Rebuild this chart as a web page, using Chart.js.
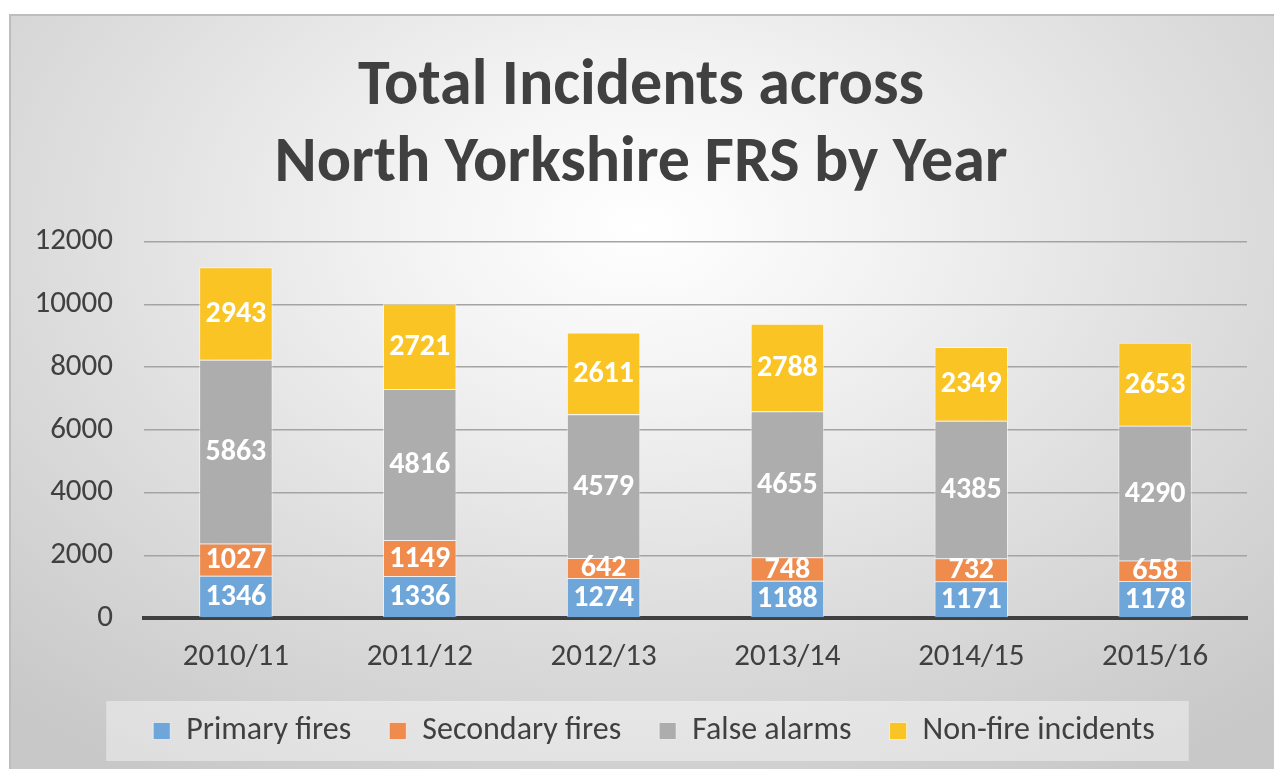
<!DOCTYPE html>
<html>
<head>
<meta charset="utf-8">
<script src="https://cdn.jsdelivr.net/npm/chart.js@4.4.0/dist/chart.umd.min.js"></script>
<style>
  html, body { margin:0; padding:0; background:#ffffff; }
  #frame {
    position:absolute; left:9px; top:14px; width:1265px; height:755px;
    border-top:2px solid #bdbdbd; border-left:2px solid #bdbdbd; box-sizing:border-box;
    background: radial-gradient(ellipse 75% 85% at 50% 28%, #ffffff 0%, #f3f3f3 25%, #dedede 60%, #c8c8c8 100%);
  }
  #c { position:absolute; left:0; top:0; }
</style>
</head>
<body>
<div id="frame"></div>
<canvas id="c" width="1274" height="769"></canvas>
<script>
// Chart data
const years = ["2010/11","2011/12","2012/13","2013/14","2014/15","2015/16"];
const primaryFires   = [1346, 1336, 1274, 1188, 1171, 1178];
const secondaryFires = [1027, 1149, 642, 748, 732, 658];
const falseAlarms    = [5863, 4816, 4579, 4655, 4385, 4290];
const nonFire        = [2943, 2721, 2611, 2788, 2349, 2653];
const yTicks = [0, 2000, 4000, 6000, 8000, 10000, 12000];
const titleLines = ["Total Incidents across", "North Yorkshire FRS by Year"];

const FONT = "Carlito, Calibri, Lato, sans-serif";
const TXT = "#404040";

// white value labels in the middle of each segment
const barLabels = {
  id: "barLabels",
  afterDatasetsDraw(chart){
    const ctx = chart.ctx;
    ctx.save();
    ctx.font = "bold 30px " + FONT;
    ctx.fillStyle = "#ffffff";
    ctx.textAlign = "center";
    ctx.textBaseline = "middle";
    chart.data.datasets.forEach((ds, i)=>{
      chart.getDatasetMeta(i).data.forEach((bar, j)=>{
        const y = (bar.y + bar.base) / 2;
        ctx.fillText(String(ds.data[j]), bar.x, y + 1);
      });
    });
    ctx.restore();
  }
};

// light box behind the legend, and nudge legend to match the original
const legendBox = {
  id: "legendBox",
  afterLayout(chart){
    const lg = chart.legend;
    lg.left += 13; lg.right += 13;
  },
  beforeDraw(chart){
    const lg = chart.legend;
    const cx = (lg.left + lg.right) / 2;
    const w = lg.lineWidths[0];
    const hb = lg.legendHitBoxes[0];
    const cy = hb.top + hb.height / 2;
    const ctx = chart.ctx;
    ctx.save();
    ctx.fillStyle = "rgba(255,255,255,0.4)";
    ctx.fillRect(cx - w/2 - 28, cy - 30, w + 43, 60);
    ctx.restore();
  }
};

const mk = (label, data, color) => ({
  label, data, backgroundColor: color,
  borderColor: "rgba(255,255,255,0.55)", borderWidth: 1,
  barPercentage: 0.4, categoryPercentage: 1.0
});

new Chart(document.getElementById("c").getContext("2d"), {
  type: "bar",
  data: {
    labels: years,
    datasets: [
      mk("Primary fires", primaryFires, "#6fa6da"),
      mk("Secondary fires", secondaryFires, "#ee8b4d"),
      mk("False alarms", falseAlarms, "#adadad"),
      mk("Non-fire incidents", nonFire, "#fac524")
    ]
  },
  options: {
    responsive: false,
    devicePixelRatio: 1,
    animation: false,
    layout: { padding: { left: 35, right: 27, top: 0, bottom: 12 } },
    plugins: {
      title: {
        display: true, text: titleLines, color: TXT,
        font: { family: FONT, size: 64, weight: "bold", lineHeight: 1.2 },
        padding: { top: 50, bottom: 38 }
      },
      legend: {
        position: "bottom",
        labels: {
          color: TXT, boxWidth: 17, boxHeight: 17, padding: 38,
          font: { family: FONT, size: 32 }
        }
      },
      tooltip: { enabled: false }
    },
    scales: {
      x: {
        stacked: true,
        afterFit(scale){ scale.height = 59; },
        grid: { display: false, drawTicks: false },
        border: { display: true, color: "#404040", width: 4 },
        ticks: { color: TXT, padding: 21, font: { family: FONT, size: 31 } }
      },
      y: {
        stacked: true, min: 0, max: 12000,
        afterFit(scale){ scale.width = 109; },
        afterBuildTicks(axis){ axis.ticks = yTicks.map(v=>({ value: v })); },
        grid: { color: "#a4a4a4", lineWidth: 1.5, drawTicks: false },
        border: { display: false },
        ticks: { color: TXT, padding: 31, font: { family: FONT, size: 31 },
                 callback: v => String(v) }
      }
    }
  },
  plugins: [barLabels, legendBox]
});
</script>
</body>
</html>
